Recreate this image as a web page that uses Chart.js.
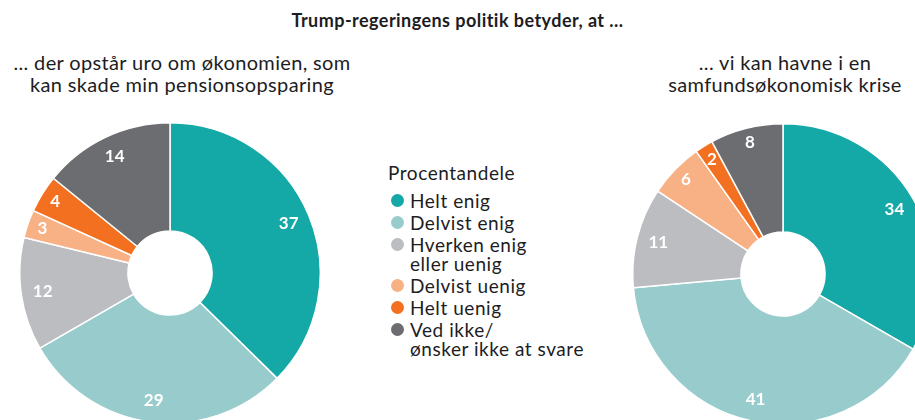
<!DOCTYPE html>
<html>
<head>
<meta charset="utf-8">
<script src="https://cdn.jsdelivr.net/npm/chart.js@4"></script>
<style>
  html, body { margin: 0; padding: 0; background: #fff; }
  body { width: 915px; height: 420px; overflow: hidden; position: relative; font-family: Lato, sans-serif; color: #1d1d1f; }
  .title { position: absolute; top: 9px; left: 0; width: 915px; text-align: center; font-weight: bold; font-size: 18px; letter-spacing: 0.45px; }
  .sub { position: absolute; top: 51px; font-size: 20px; letter-spacing: 0.35px; line-height: 22px; text-align: center; }
  .box { position: absolute; width: 302px; height: 302px; }
  #legend { position: absolute; left: 388px; top: 161px; font-size: 19px; letter-spacing: 0.55px; }
  #legend .head { margin-bottom: 7px; }
  #legend .item { position: relative; padding-left: 22px; line-height: 19px; margin-bottom: 3px; }
  #legend .dot { position: absolute; left: 3px; top: 3px; width: 13px; height: 13px; border-radius: 50%; }
</style>
</head>
<body>
<div class="title">Trump-regeringens politik betyder, at ...</div>
<div class="sub" style="left:0; width:364px;">... der opstår uro om økonomien, som<br>kan skade min pensionsopsparing</div>
<div class="sub" style="left:640px; width:290px;">... vi kan havne i en<br>samfundsøkonomisk krise</div>

<div class="box" style="left:19px; top:122px;"><canvas id="chartLeft"></canvas></div>
<div class="box" style="left:632px; top:123px;"><canvas id="chartRight"></canvas></div>
<div id="legend"></div>

<script>
// Answer categories and colours
const categories = ['Helt enig', 'Delvist enig', 'Hverken enig\neller uenig', 'Delvist uenig', 'Helt uenig', 'Ved ikke/\nønsker ikke at svare'];
const colors = ['#14a8a6', '#98cccc', '#bcbdc1', '#f8b184', '#f37021', '#6c6d71'];

// Percentages per question
const pensionValues = [37, 29, 12, 3, 4, 14];
const crisisValues = [34, 41, 11, 6, 2, 8];

// Draws the white percentage numbers inside each slice
const sliceLabels = {
    id: 'sliceLabels',
    afterDatasetsDraw(chart) {
        const ctx = chart.ctx;
        const meta = chart.getDatasetMeta(0);
        const values = chart.data.datasets[0].data;
        ctx.save();
        ctx.fillStyle = '#ffffff';
        ctx.font = 'bold 17px Lato';
        ctx.textAlign = 'center';
        ctx.textBaseline = 'middle';
        meta.data.forEach((arc, i) => {
            const p = arc.getProps(['x', 'y', 'startAngle', 'endAngle', 'innerRadius', 'outerRadius'], true);
            const mid = (p.startAngle + p.endAngle) / 2;
            const frac = values[i] < 10 ? 0.86 : 0.8;
            const r = p.innerRadius + (p.outerRadius - p.innerRadius) * frac;
            ctx.fillText(String(values[i]), p.x + Math.cos(mid) * r, p.y + Math.sin(mid) * r);
        });
        ctx.restore();
    }
};

function makeDonut(id, values) {
    return new Chart(document.getElementById(id), {
        type: 'doughnut',
        data: {
            labels: categories,
            datasets: [{
                data: values,
                backgroundColor: colors,
                borderColor: '#ffffff',
                borderWidth: 1.5
            }]
        },
        options: {
            responsive: true,
            maintainAspectRatio: false,
            animation: false,
            cutout: '28%',
            layout: { padding: 0 },
            plugins: {
                legend: { display: false },
                tooltip: { enabled: false }
            }
        },
        plugins: [sliceLabels]
    });
}

makeDonut('chartLeft', pensionValues);
makeDonut('chartRight', crisisValues);

// Legend in the middle
const legend = document.getElementById('legend');
legend.innerHTML = '<div class="head">Procentandele</div>' + categories.map((c, i) =>
    '<div class="item"><span class="dot" style="background:' + colors[i] + '"></span>' + c.replace('\n', '<br>') + '</div>'
).join('');
</script>
</body>
</html>
